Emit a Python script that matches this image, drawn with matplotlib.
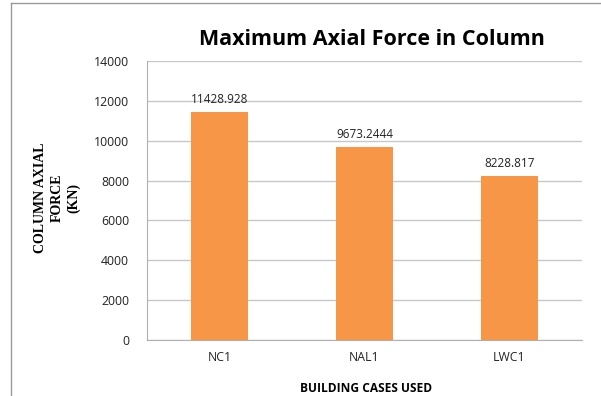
import matplotlib
matplotlib.use('Agg')
import matplotlib.pyplot as plt
from matplotlib.lines import Line2D

# ── Data ──────────────────────────────────────────────────────────────────────
cases = ['NC1', 'NAL1', 'LWC1']
forces = [11428.928, 9673.2444, 8228.817]
labels = ['11428.928', '9673.2444', '8228.817']
yticks = [0, 2000, 4000, 6000, 8000, 10000, 12000, 14000]

# ── Plot ──────────────────────────────────────────────────────────────────────
fig = plt.figure(figsize=(6.01, 3.96), dpi=100)
ax = fig.add_axes([0.2446, 0.1414, 0.7238, 0.7045])

x = range(len(cases))
bars = ax.bar(x, forces, width=0.39, color='#F79646', zorder=3)

for bar, txt in zip(bars, labels):
    ax.text(bar.get_x() + bar.get_width() / 2, bar.get_height() + 300, txt,
            ha='center', va='bottom', fontsize=8.5, family='Open Sans', color='#222222')

ax.set_xlim(-0.5, len(cases) - 0.5)
ax.set_ylim(0, 14000)
ax.set_yticks(yticks)
ax.set_yticklabels([str(t) for t in yticks], family='Open Sans', fontsize=8.8)
ax.set_xticks(list(x))
ax.set_xticklabels(cases, family='Open Sans', fontsize=8.8)
ax.tick_params(axis='both', length=0, pad=13, colors='#222222')
ax.tick_params(axis='x', pad=8)

ax.grid(axis='y', color='#c8c8c8', linewidth=1, zorder=0)
for s in ['top', 'right']:
    ax.spines[s].set_visible(False)
ax.spines['left'].set_color('#b0b0b0')
ax.spines['bottom'].set_color('#b0b0b0')

fig.text(0.619, 0.90, 'Maximum Axial Force in Column', ha='center', va='center',
         fontsize=15.5, fontweight='bold', family='Open Sans')
fig.text(0.095, 0.50, 'COLUMN AXIAL\nFORCE\n(KN)', rotation=90, ha='center',
         va='center', fontsize=10, fontweight='bold', family='Liberation Serif',
         linespacing=1.35)
fig.text(0.609, 0.02, 'BUILDING CASES USED', ha='center', va='center',
         fontsize=8.6, fontweight='bold', family='Open Sans')

# frame lines around the chart object
fig.add_artist(Line2D([0.0183, 0.0183], [0.0, 0.992], color='#9a9a9a', lw=1))
fig.add_artist(Line2D([0.0183, 1.0], [0.992, 0.992], color='#9a9a9a', lw=1))

plt.savefig('out.png', dpi=100)
